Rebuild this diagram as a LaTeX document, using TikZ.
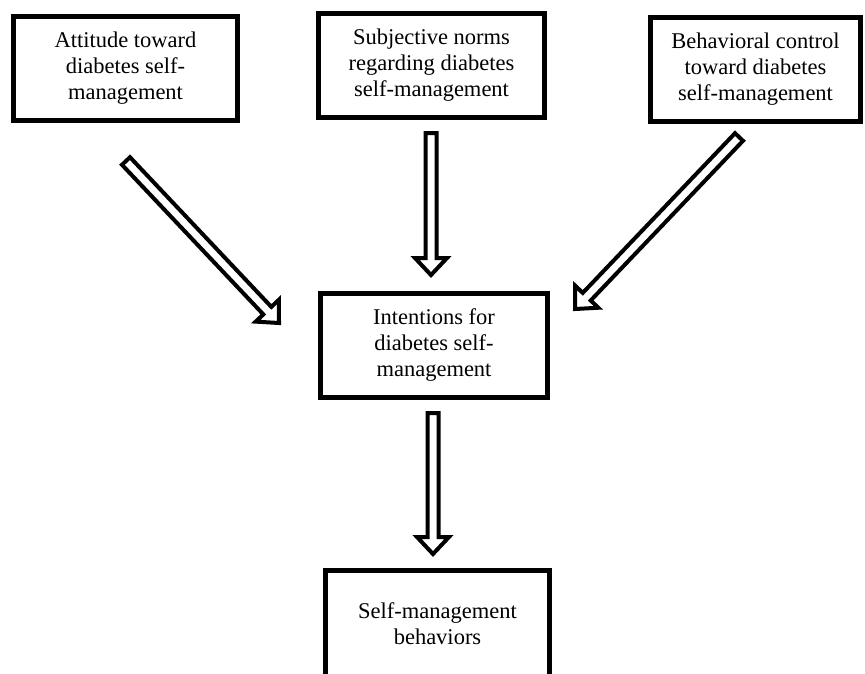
\documentclass[tikz,border=0pt]{standalone}
\usepackage{fontspec}
\setmainfont{Liberation Serif}
\usetikzlibrary{calc}
\newcommand{\blockarr}[2]{%
  \coordinate (hb) at ($(#2)!17pt!(#1)$);
  \draw[blockarrow] ($(#1)!5.5pt!90:(#2)$) -- ($(hb)!5.5pt!90:(#2)$) -- ($(hb)!16pt!90:(#2)$) -- (#2)
    -- ($(hb)!16pt!-90:(#2)$) -- ($(hb)!5.5pt!-90:(#2)$) -- ($(#1)!5.5pt!-90:(#2)$) -- cycle;}
\begin{document}
\begin{tikzpicture}[x=1pt,y=-1pt,
  box/.style={draw, line width=5pt, minimum width=#1, minimum height=104pt, inner sep=0pt,
    align=center, font=\fontsize{22.5}{26}\selectfont},
  blockarrow/.style={draw, line width=4pt, fill=white, miter limit=10}]
\useasboundingbox (0,0) rectangle (865,673);
\clip (0,0) rectangle (865,673);
\node[box=224pt] (att) at (125.5,68) {Attitude toward\\diabetes self-\\management};
\node[box=226pt] (sub) at (431.5,65) {Subjective norms\\regarding diabetes\\self-management};
\node[box=210pt] (beh) at (755.5,69) {Behavioral control\\toward diabetes\\self-management};
\node[box=227pt] (int) at (434,345) {Intentions for\\diabetes self-\\management};
\node[box=224pt, minimum height=106pt] (smb) at (437.5,623.5) {Self-management\\behaviors};
\coordinate (a1s) at (126,161);
\coordinate (a1t) at (279,323);
\coordinate (a2s) at (431,133);
\coordinate (a2t) at (431,275);
\coordinate (a3s) at (739,137);
\coordinate (a3t) at (575,309);
\coordinate (a4s) at (433,413);
\coordinate (a4t) at (433,554);
\blockarr{a1s}{a1t}
\blockarr{a2s}{a2t}
\blockarr{a3s}{a3t}
\blockarr{a4s}{a4t}
\end{tikzpicture}
\end{document}
